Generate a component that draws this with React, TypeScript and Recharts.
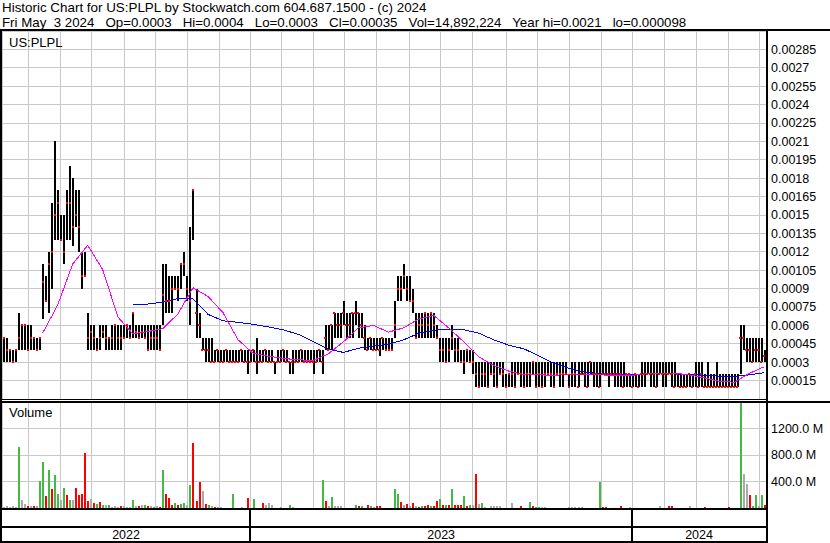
import React from 'react';
import { ComposedChart, Bar, Line, Scatter, XAxis, YAxis, CartesianGrid, Cell } from 'recharts';

const FONT = '"Liberation Sans", Arial, sans-serif';
const PRICE_UNIT = 0.00001;

// Bar highs / lows / closes in units of 0.00001, oldest first (about two sessions per bar)
const barHigh = [
  50, 50, 40, 40, 40, 70, 60, 60, 60, 60,
  50, 50, 50, 110, 100, 120, 160, 210, 170, 150,
  150, 170, 190, 180, 170, 170, 120, 120, 70, 60,
  60, 50, 60, 60, 60, 50, 60, 60, 60, 60,
  60, 60, 60, 70, 60, 60, 60, 60, 60, 60,
  60, 60, 60, 110, 110, 100, 100, 100, 100, 110,
  120, 100, 140, 170, 90, 70, 50, 50, 50, 50,
  40, 40, 40, 40, 40, 40, 40, 40, 40, 40,
  40, 40, 40, 40, 50, 40, 40, 40, 40, 40,
  30, 40, 40, 40, 40, 30, 40, 40, 40, 40,
  40, 40, 40, 40, 40, 40, 40, 60, 60, 60,
  70, 70, 70, 80, 70, 70, 70, 80, 70, 70,
  60, 50, 50, 50, 50, 50, 50, 50, 50, 50,
  80, 100, 100, 110, 100, 100, 90, 70, 70, 70,
  70, 70, 70, 70, 60, 50, 50, 50, 50, 60,
  50, 50, 40, 40, 40, 40, 40, 30, 30, 30,
  30, 30, 30, 30, 30, 30, 30, 20, 20, 30,
  30, 30, 30, 30, 30, 30, 30, 30, 30, 30,
  30, 30, 30, 30, 30, 30, 30, 30, 20, 30,
  30, 30, 30, 30, 30, 30, 30, 30, 30, 30,
  30, 30, 30, 30, 30, 30, 30, 20, 20, 20,
  20, 20, 30, 30, 30, 30, 30, 30, 30, 30,
  30, 30, 30, 30, 20, 20, 20, 20, 20, 20,
  30, 30, 30, 20, 30, 20, 20, 30, 20, 20,
  20, 20, 20, 20, 20, 60, 60, 50, 50, 50,
  50, 50, 50, 40,
];

const barLow = [
  30, 30, 30, 30, 30, 40, 40, 40, 40, 40,
  40, 40, 40, 65, 80, 70, 90, 130, 130, 130,
  110, 130, 130, 125, 140, 120, 90, 100, 40, 40,
  40, 40, 40, 50, 40, 40, 40, 40, 40, 40,
  50, 50, 50, 50, 50, 50, 50, 50, 40, 40,
  40, 40, 40, 60, 70, 70, 70, 90, 80, 90,
  100, 80, 60, 130, 50, 50, 40, 30, 30, 30,
  30, 30, 30, 30, 30, 30, 30, 30, 30, 30,
  30, 20, 30, 30, 20, 30, 30, 30, 30, 30,
  20, 30, 30, 30, 30, 20, 20, 30, 30, 30,
  30, 30, 30, 20, 30, 30, 20, 40, 40, 40,
  50, 50, 50, 60, 50, 50, 50, 60, 50, 50,
  40, 40, 40, 40, 40, 35, 40, 40, 40, 40,
  50, 80, 80, 90, 80, 80, 70, 50, 50, 50,
  50, 50, 50, 50, 50, 30, 30, 30, 30, 40,
  30, 30, 30, 20, 30, 30, 20, 10, 10, 10,
  10, 10, 20, 10, 10, 20, 10, 10, 10, 10,
  10, 20, 10, 10, 10, 10, 20, 10, 10, 10,
  10, 20, 10, 10, 20, 10, 10, 20, 10, 10,
  10, 10, 20, 10, 10, 20, 10, 10, 10, 20,
  20, 10, 20, 10, 10, 10, 10, 10, 10, 10,
  10, 10, 10, 10, 20, 10, 10, 10, 20, 10,
  10, 20, 10, 10, 10, 10, 10, 10, 10, 10,
  10, 10, 10, 10, 10, 10, 10, 10, 10, 10,
  10, 10, 10, 10, 10, 20, 40, 30, 30, 30,
  30, 30, 30, 30,
];

const barClose = [
  50, 40, 40, 30, 40, 50, 60, 60, 40, 50,
  50, 40, 50, 95, 80, 110, 120, 150, 160, 130,
  120, 160, 160, 140, 150, 140, 100, 100, 50, 55,
  50, 40, 50, 55, 50, 50, 50, 60, 50, 50,
  50, 60, 50, 70, 55, 50, 55, 50, 40, 50,
  50, 50, 40, 85, 80, 80, 90, 90, 90, 110,
  110, 90, 80, 170, 70, 60, 40, 40, 40, 30,
  30, 40, 30, 30, 40, 30, 30, 30, 30, 40,
  30, 30, 30, 40, 30, 30, 30, 40, 30, 30,
  30, 30, 30, 40, 30, 30, 30, 30, 30, 40,
  30, 30, 30, 30, 30, 40, 30, 50, 40, 60,
  70, 60, 60, 70, 60, 60, 70, 70, 70, 60,
  50, 40, 50, 40, 40, 40, 50, 40, 40, 40,
  60, 90, 90, 100, 90, 80, 80, 50, 60, 60,
  70, 60, 70, 60, 50, 40, 40, 30, 40, 50,
  40, 40, 30, 30, 40, 30, 30, 20, 10, 20,
  20, 10, 20, 20, 10, 20, 20, 10, 20, 20,
  10, 20, 20, 10, 20, 20, 30, 10, 20, 10,
  20, 20, 20, 10, 20, 20, 20, 20, 10, 20,
  20, 10, 20, 20, 10, 30, 20, 20, 10, 20,
  20, 20, 20, 20, 20, 20, 10, 20, 20, 10,
  20, 10, 20, 20, 20, 20, 20, 10, 20, 20,
  20, 20, 20, 10, 20, 10, 10, 10, 20, 10,
  20, 10, 20, 10, 10, 10, 10, 10, 10, 10,
  10, 10, 10, 10, 10, 50, 50, 40, 40, 30,
  40, 40, 30, 35,
];

// Volume in millions of shares; move: 1 = closed up, -1 = closed down, 0 = unchanged
const volume = [
  20, 30, 15, 25, 20, 920, 120, 60, 30, 25,
  35, 30, 410, 695, 184, 577, 286, 500, 215, 117,
  296, 194, 117, 117, 296, 194, 215, 833, 102, 143,
  80, 60, 90, 50, 40, 45, 20, 30, 20, 35,
  25, 20, 20, 117, 25, 30, 45, 40, 30, 35,
  20, 25, 15, 577, 210, 153, 50, 70, 40, 55,
  80, 40, 347, 976, 100, 388, 255, 60, 40, 30,
  20, 15, 10, 0, 0, 0, 204, 0, 0, 10,
  0, 148, 0, 133, 0, 0, 70, 40, 80, 50,
  0, 0, 10, 0, 0, 40, 20, 0, 0, 0,
  0, 0, 0, 0, 0, 0, 419, 102, 30, 163,
  30, 30, 25, 0, 0, 0, 0, 40, 30, 35,
  0, 40, 30, 20, 35, 25, 0, 0, 0, 0,
  286, 210, 87, 40, 60, 35, 70, 30, 20, 30,
  25, 40, 30, 25, 112, 143, 50, 40, 45, 291,
  50, 40, 45, 179, 30, 50, 40, 511, 66, 77,
  20, 0, 25, 25, 25, 25, 0, 0, 0, 77,
  0, 0, 36, 0, 0, 92, 25, 20, 20, 20,
  15, 0, 0, 0, 0, 0, 0, 0, 15, 15,
  15, 15, 15, 0, 0, 0, 0, 0, 388, 20,
  20, 0, 0, 0, 0, 36, 0, 0, 20, 0,
  0, 0, 0, 0, 0, 0, 0, 0, 36, 0,
  0, 36, 30, 0, 0, 0, 0, 0, 36, 0,
  0, 0, 0, 20, 0, 0, 0, 0, 0, 0,
  0, 20, 0, 0, 0, 1640, 511, 368, 189, 30,
  189, 25, 189, 50,
];

const volumeMove = [
  0, 0, 0, 0, 0, 1, 0, 0, -1, 0,
  -1, 0, 1, 1, -1, 1, -1, 1, 1, 0,
  1, -1, 1, 0, -1, -1, -1, -1, -1, 0,
  -1, 1, -1, 1, 0, 1, 0, 0, 0, -1,
  0, 0, 0, 1, 0, -1, 0, 1, -1, 0,
  1, 0, -1, 1, -1, -1, -1, 1, -1, 1,
  1, 0, 1, -1, -1, -1, 0, -1, 1, 0,
  -1, 0, 0, 0, 0, 0, 1, 0, 0, 0,
  0, -1, 0, 1, 0, 0, -1, 0, 0, 0,
  0, 0, 0, 0, 0, 1, 0, 0, 0, 0,
  0, 0, 0, 0, 0, 0, 1, -1, 0, 1,
  0, 0, 0, 0, 0, 0, 0, 1, -1, 1,
  0, -1, 1, 0, -1, -1, 0, 0, 0, 0,
  1, 1, -1, 0, -1, 0, -1, 0, -1, 1,
  -1, -1, 1, -1, -1, 1, -1, 1, -1, 1,
  -1, -1, -1, 1, -1, 1, 0, -1, 0, 1,
  0, 0, 0, 0, 0, 0, 0, 0, 0, 0,
  0, 0, -1, 0, 0, 1, -1, 1, 1, 0,
  0, 0, 0, 0, 0, 0, 0, 0, 0, 0,
  0, 0, 0, 0, 0, 0, 0, 0, 1, -1,
  -1, 0, 0, 0, 0, -1, 0, 0, 0, 0,
  0, 0, 0, 0, 0, 0, 0, 0, 0, 0,
  0, -1, -1, 0, 0, 0, 0, 0, 0, 0,
  0, 0, 0, -1, 0, 0, 0, 0, 0, 0,
  0, -1, 0, 0, 0, 1, 0, 0, -1, 1,
  1, 0, 1, -1,
];

// Moving averages (same units as prices), one reading every AVG_STEP bars
const AVG_STEP = 5;
const fastAvgStart = 13;
const fastAvg = [
  53.7, 76.5, 110, 125.3, 105.4, 67, 53.1, 55, 57.4, 69.4,
  90.7, 83.6, 70.3, 48.2, 37.2, 34.9, 33.1, 31.9, 31.5, 36.8,
  46.6, 58, 60, 54.5, 58, 65.1, 68.2, 58, 46.6, 34.4,
  27.4, 22.7, 20, 19.7, 19.3, 20, 19.7, 19.7, 19.3, 18.9,
  20.5, 21, 21, 19.7, 17.2, 14.4, 13.7, 20.9, 26.4,
];
const slowAvgStart = 43;
const slowAvg = [
  76.8, 77.4, 79, 81.9, 81.7, 69, 63.7, 62.5, 60.9, 58.8,
  56.4, 52.7, 46.8, 40.5, 38, 41.3, 43.3, 44.6, 48.2, 53.5,
  56.1, 57, 56.4, 53.7, 48.2, 43.9, 40.9, 35.2, 29, 25,
  22.1, 20.5, 19.7, 20, 20.5, 20.5, 20.5, 20, 19.3, 18.6,
  18.3, 19.7, 21.5,
];

const priceTicks = [
  0.00015, 0.0003, 0.00045, 0.0006, 0.00075, 0.0009, 0.00105, 0.0012, 0.00135, 0.0015,
  0.00165, 0.0018, 0.00195, 0.0021, 0.00225, 0.0024, 0.00255, 0.0027, 0.00285,
];
const volumeTicks = [400, 800, 1200];

// Month and year starts, in bar positions
const monthStarts = [
  8.2, 18.9, 29.1, 40.2, 50.6, 61.2, 71.9, 82.2, 92.5, 103, 113.5, 124.1,
  134.9, 145.3, 156, 167.1, 177.5, 188.3, 198.9, 209.2, 219.9, 230.5, 241, 251.3,
];
const yearStarts = [-0.5, 82, 209];
const yearLabels = ['2022', '2023', '2024'];

const title = 'Historic Chart for US:PLPL by Stockwatch.com 604.687.1500 - (c) 2024';
const quoteLine = 'Fri May  3 2024   Op=0.0003   Hi=0.0004   Lo=0.0003   Cl=0.00035   Vol=14,892,224   Year hi=0.0021   lo=0.000098';

const N = barHigh.length;
const barDomain = [-0.5, N - 0.5];
const yearEnds = [...yearStarts.slice(1), N - 0.5];
const yearCenters = yearStarts.map((s, i) => (s + yearEnds[i]) / 2);
const yearTicks = [...yearStarts.slice(1), ...yearCenters];

// volume chart: plot band height, then the two date rows below it
const VOL_PLOT_H = 106;
const DATE_ROWS_H = 35;

const avgAt = (values: number[], start: number, i: number) => {
  const off = i - start;
  if (off < 0 || off % AVG_STEP !== 0) return null;
  const v = values[off / AVG_STEP];
  return v === undefined ? null : v * PRICE_UNIT;
};

const priceRows = barHigh.map((h, i) => ({
  i,
  range: [barLow[i] * PRICE_UNIT, h * PRICE_UNIT],
  close: barClose[i] * PRICE_UNIT,
  fast: avgAt(fastAvg, fastAvgStart, i),
  slow: avgAt(slowAvg, slowAvgStart, i),
}));

const volumeRows = volume.map((v, i) => ({ i, vol: v, move: volumeMove[i] }));

const MOVE_COLORS: Record<number, string> = { 1: '#44b944', [-1]: '#ff0000', 0: '#aaaaaa' };
const GRID = '#c8c8c8';

const CloseTick = (props: any) => {
  const { cx, cy } = props;
  if (cx == null || cy == null) return null;
  return <rect x={cx - 1} y={cy - 1} width={2} height={2} fill="#ff0000" />;
};

// year boundaries run down through both date rows; labels sit in the lower row
const YearTick = (props: any) => {
  const { x, payload } = props;
  const top = VOL_PLOT_H;
  if (yearStarts.indexOf(payload.value) > 0) {
    return <line x1={x} x2={x} y1={top} y2={top + 34} stroke="#000" strokeWidth={2} />;
  }
  const idx = yearCenters.indexOf(payload.value);
  return (
    <text x={x} y={top + 31} textAnchor="middle" fontSize={12.5} fontFamily={FONT} fill="#000">
      {yearLabels[idx]}
    </text>
  );
};

const line = (style: React.CSSProperties) => (
  <div style={{ position: 'absolute', background: '#000', ...style }} />
);

const App: React.FC = () => {
  const tickStyle = { fontSize: 12.5, fill: '#000', fontFamily: FONT };

  return (
    <div style={{ position: 'absolute', left: 0, top: 0, width: 830, height: 543, background: '#fff', overflow: 'hidden', fontFamily: FONT }}>
      <style>{'.crisp svg line, .crisp svg rect, .crisp svg path { shape-rendering: crispEdges; }'}</style>

      <div style={{ position: 'absolute', left: 2, top: 1, fontSize: 13.4, lineHeight: '14px', whiteSpace: 'pre' }}>{title}</div>
      <div style={{ position: 'absolute', left: 2, top: 15.5, fontSize: 13.3, lineHeight: '14px', whiteSpace: 'pre' }}>{quoteLine}</div>

      <div className="crisp" style={{ position: 'absolute', left: 0, top: 31 }}>
        <ComposedChart width={830} height={368} data={priceRows} margin={{ top: 0, right: 0, bottom: 0, left: 2 }}>
          <XAxis xAxisId="bar" dataKey="i" type="category" hide />
          <XAxis xAxisId="month" dataKey="i" type="number" domain={barDomain} ticks={monthStarts} interval={0} hide />
          <YAxis
            orientation="right"
            width={64}
            domain={[0, 0.003]}
            ticks={priceTicks}
            interval={0}
            tickFormatter={(v) => String(v)}
            axisLine={false}
            tickLine={false}
            tickSize={0}
            tickMargin={5}
            tick={tickStyle}
          />
          <CartesianGrid xAxisId="month" stroke={GRID} />
          <Bar xAxisId="bar" dataKey="range" fill="#000" barSize={2} isAnimationActive={false} />
          <Scatter xAxisId="bar" dataKey="close" shape={CloseTick} isAnimationActive={false} />
          <Line xAxisId="bar" dataKey="slow" stroke="#0000ff" strokeWidth={1} dot={false} connectNulls type="linear" isAnimationActive={false} />
          <Line xAxisId="bar" dataKey="fast" stroke="#ff00ff" strokeWidth={1} dot={false} connectNulls type="linear" isAnimationActive={false} />
        </ComposedChart>
      </div>

      <div className="crisp" style={{ position: 'absolute', left: 0, top: 402 }}>
        <ComposedChart width={830} height={VOL_PLOT_H + DATE_ROWS_H} data={volumeRows} margin={{ top: 0, right: 0, bottom: 0, left: 2 }}>
          <XAxis xAxisId="bar" dataKey="i" type="category" hide />
          <XAxis xAxisId="month" dataKey="i" type="number" domain={barDomain} ticks={monthStarts} interval={0} hide />
          <XAxis
            xAxisId="year"
            dataKey="i"
            type="number"
            domain={barDomain}
            ticks={yearTicks}
            interval={0}
            height={DATE_ROWS_H}
            axisLine={false}
            tickLine={false}
            tickSize={0}
            tickMargin={0}
            tick={<YearTick />}
          />
          <YAxis
            orientation="right"
            width={64}
            domain={[0, 1600]}
            allowDataOverflow
            ticks={volumeTicks}
            interval={0}
            tickFormatter={(v) => `${v.toFixed(1)} M`}
            axisLine={false}
            tickLine={false}
            tickSize={0}
            tickMargin={5}
            tick={tickStyle}
          />
          <CartesianGrid xAxisId="month" stroke={GRID} />
          <Bar xAxisId="bar" dataKey="vol" barSize={2} isAnimationActive={false}>
            {volumeRows.map((r) => (
              <Cell key={r.i} fill={MOVE_COLORS[r.move]} />
            ))}
          </Bar>
        </ComposedChart>
      </div>

      <div style={{ position: 'absolute', left: 9, top: 35, fontSize: 13, lineHeight: '15px' }}>US:PLPL</div>
      <div style={{ position: 'absolute', left: 9, top: 405, fontSize: 13, lineHeight: '15px' }}>Volume</div>

      {line({ left: 0, top: 29, width: 830, height: 2 })}
      {line({ left: 0, top: 31, width: 2, height: 512 })}
      {line({ left: 766, top: 31, width: 2, height: 512 })}
      {line({ left: 0, top: 399, width: 766, height: 1 })}
      {line({ left: 0, top: 401, width: 830, height: 2 })}
      {line({ left: 0, top: 508, width: 766, height: 2 })}
      {line({ left: 0, top: 526, width: 766, height: 2 })}
      {line({ left: 0, top: 541, width: 766, height: 2 })}
    </div>
  );
};

export default App;
